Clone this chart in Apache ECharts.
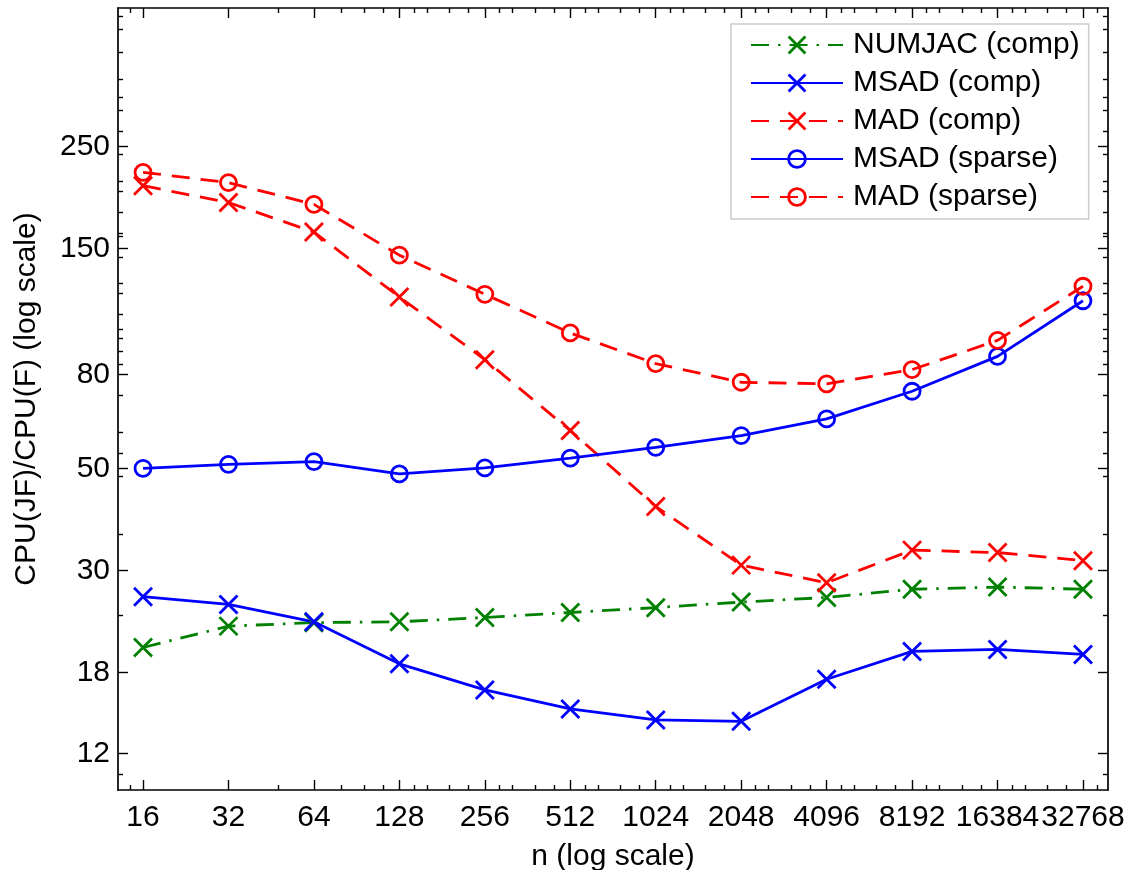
<!DOCTYPE html>
<html>
<head>
<meta charset="utf-8">
<title>CPU(JF)/CPU(F)</title>
<script src="https://cdn.jsdelivr.net/npm/echarts@6/dist/echarts.min.js"></script>
<style>
  html, body { margin: 0; padding: 0; background: #fff; }
  #chart { width: 1128px; height: 870px; }
</style>
</head>
<body>
<div id="chart"></div>
<script>
// Problem size n (powers of two) and the measured ratios CPU(JF)/CPU(F)
const nValues = [16, 32, 64, 128, 256, 512, 1024, 2048, 4096, 8192, 16384, 32768];

const numjacComp  = [20.4, 22.7, 23.1, 23.2, 23.7, 24.3, 24.9, 25.6, 26.2, 27.3, 27.6, 27.3];
const msadComp    = [26.3, 25.3, 23.2, 18.8, 16.5, 15.0, 14.2, 14.1, 17.4, 20.0, 20.2, 19.7];
const madComp     = [205.5, 189, 163, 117.8, 86.1, 60.4, 41.3, 30.8, 28.2, 33.2, 32.8, 31.5];
const msadSparse  = [50.0, 51.0, 51.7, 48.6, 50.1, 52.6, 55.5, 58.9, 64.0, 73.5, 87.5, 115.6];
const madSparse   = [219.8, 208.7, 187.2, 145.2, 119.4, 98.4, 84.4, 76.9, 76.3, 81.9, 94.8, 124.3];

// Tick values
const xMajorTicks = nValues;
const xMinorTicks = [14.4, 48, 80, 96, 112, 144, 160, 192, 224, 288, 320, 384, 448,
  576, 640, 768, 896, 1152, 1280, 1536, 1792, 2304, 2560, 3072, 3584,
  4608, 5120, 6144, 7168, 9216, 10240, 12288, 14336, 18432, 20480, 24576, 28672, 36864];
const yMajorTicks = [12, 18, 30, 50, 80, 150, 250];
const yMinorTicks = [480, 450, 400, 350, 320, 300, 270, 240, 210, 200, 180, 162, 160, 144,
  126, 120, 108, 100, 96, 90, 84, 72, 60, 54, 48, 36, 24, 10.8];

const X_MIN = 13.06, X_MAX = 40140;
const Y_MIN = 10, Y_MAX = 500;

const FONT = '"Liberation Sans", Arial, Helvetica, sans-serif';
const BLUE = '#0000ff', RED = '#ff0000', GREEN = '#008000';
const CROSS = 'path://M0,0L10,10M10,0L0,10';
const LINE_W = 2.8;

function xAxisCfg(position, ticks, tickLen, withLine, withLabels) {
  const cfg = {
    type: 'log', logBase: 2, min: X_MIN, max: X_MAX, gridIndex: 0,
    position: position,
    axisLine: { show: withLine, onZero: false, lineStyle: { color: '#000', width: 1.7 } },
    axisTick: { show: true, inside: true, length: tickLen, customValues: ticks,
                lineStyle: { color: '#000', width: 1.4 } },
    axisLabel: { show: withLabels, customValues: ticks, margin: 13,
                 fontSize: 30, fontFamily: FONT, color: '#000',
                 formatter: v => String(Math.round(v)) },
    splitLine: { show: false },
    minorTick: { show: false },
    silent: true
  };
  if (withLabels) {
    cfg.name = 'n (log scale)';
    cfg.nameLocation = 'middle';
    cfg.nameGap = 52;
    cfg.nameTextStyle = { fontSize: 30, fontFamily: FONT, color: '#000' };
  }
  return cfg;
}

function yAxisCfg(position, ticks, tickLen, withLine, withLabels) {
  const cfg = {
    type: 'log', logBase: 10, min: Y_MIN, max: Y_MAX, gridIndex: 0,
    position: position,
    axisLine: { show: withLine, onZero: false, lineStyle: { color: '#000', width: 1.7 } },
    axisTick: { show: true, inside: true, length: tickLen, customValues: ticks,
                lineStyle: { color: '#000', width: 1.4 } },
    axisLabel: { show: withLabels, customValues: ticks, margin: 8,
                 fontSize: 30, fontFamily: FONT, color: '#000',
                 formatter: v => String(Math.round(v)) },
    splitLine: { show: false },
    minorTick: { show: false },
    silent: true
  };
  if (withLabels) {
    cfg.name = 'CPU(JF)/CPU(F) (log scale)';
    cfg.nameLocation = 'middle';
    cfg.nameRotate = 90;
    cfg.nameGap = 76;
    cfg.nameTextStyle = { fontSize: 30, fontFamily: FONT, color: '#000' };
  }
  return cfg;
}

function lineSeries(name, values, color, dash, marker) {
  const isCross = marker === 'x';
  return {
    name: name,
    type: 'line',
    xAxisIndex: 0,
    yAxisIndex: 0,
    data: nValues.map((n, i) => [n, values[i]]),
    symbol: isCross ? CROSS : 'circle',
    symbolSize: isCross ? 18 : 16,
    showAllSymbol: true,
    lineStyle: { color: color, width: LINE_W, type: dash },
    itemStyle: { color: 'rgba(0,0,0,0)', borderColor: color, borderWidth: LINE_W },
    emphasis: { disabled: true },
    silent: true,
    animation: false
  };
}

const series = [
  lineSeries('NUMJAC (comp)', numjacComp, GREEN, [18, 9, 2.5, 9], 'x'),
  lineSeries('MSAD (comp)', msadComp, BLUE, 'solid', 'x'),
  lineSeries('MAD (comp)', madComp, RED, [18, 11], 'x'),
  lineSeries('MSAD (sparse)', msadSparse, BLUE, 'solid', 'o'),
  lineSeries('MAD (sparse)', madSparse, RED, [18, 11], 'o')
];

const chart = echarts.init(document.getElementById('chart'), null, { renderer: 'canvas' });
chart.setOption({
  animation: false,
  backgroundColor: '#fff',
  grid: { left: 118, top: 8, width: 990, height: 782, show: false, outerBoundsMode: 'none', containLabel: false },
  xAxis: [
    xAxisCfg('bottom', xMajorTicks, 10, true, true),
    xAxisCfg('bottom', xMinorTicks, 5, false, false),
    xAxisCfg('top', xMajorTicks, 10, true, false),
    xAxisCfg('top', xMinorTicks, 5, false, false)
  ],
  yAxis: [
    yAxisCfg('left', yMajorTicks, 10, true, true),
    yAxisCfg('left', yMinorTicks, 5, false, false),
    yAxisCfg('right', yMajorTicks, 10, true, false),
    yAxisCfg('right', yMinorTicks, 5, false, false)
  ],
  legend: {
    show: true,
    orient: 'vertical',
    left: 731,
    top: 24,
    padding: [6, 9, 7, 19],
    itemWidth: 92,
    itemHeight: 21,
    itemGap: 8,
    backgroundColor: '#fff',
    borderColor: '#cccccc',
    borderWidth: 1.5,
    borderRadius: 0,
    selectedMode: false,
    itemStyle: { borderWidth: LINE_W },
    textStyle: { fontSize: 30, fontFamily: FONT, color: '#000', lineHeight: 30, padding: [0, 0, 0, 5] },
    data: series.map(s => s.name)
  },
  series: series
});
</script>
</body>
</html>
